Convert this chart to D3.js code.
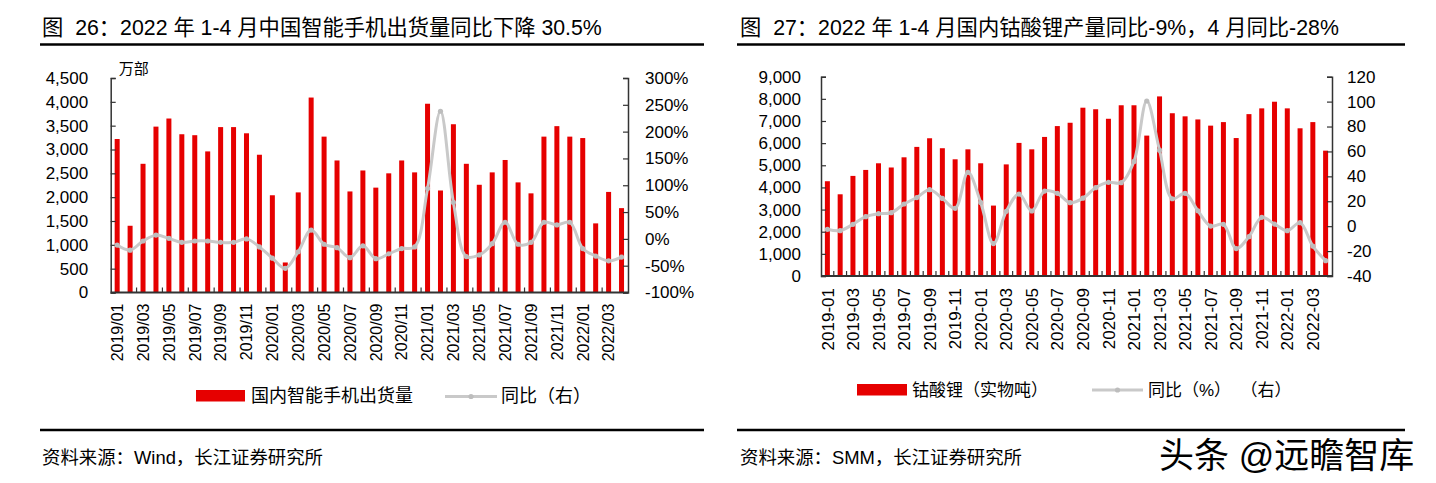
<!DOCTYPE html>
<html><head><meta charset="utf-8">
<script src="https://cdn.jsdelivr.net/npm/d3@7/dist/d3.min.js"></script>
<style>
html,body{margin:0;padding:0;background:#fff;}
svg{display:block;}
text{font-family:"Liberation Sans","Noto Sans CJK SC",Arial,sans-serif;fill:#000;}
</style></head>
<body>
<svg id="c" width="1436" height="483"></svg>
<script>
// ---------- data ----------
const monthsSlash = ["2019/01","2019/02","2019/03","2019/04","2019/05","2019/06","2019/07","2019/08","2019/09","2019/10","2019/11","2019/12",
"2020/01","2020/02","2020/03","2020/04","2020/05","2020/06","2020/07","2020/08","2020/09","2020/10","2020/11","2020/12",
"2021/01","2021/02","2021/03","2021/04","2021/05","2021/06","2021/07","2021/08","2021/09","2021/10","2021/11","2021/12",
"2022/01","2022/02","2022/03","2022/04"];
const monthsDash = ["2019-01","2019-02","2019-03","2019-04","2019-05","2019-06","2019-07","2019-08","2019-09","2019-10","2019-11","2019-12",
"2020-01","2020-02","2020-03","2020-04","2020-05","2020-06","2020-07","2020-08","2020-09","2020-10","2020-11","2020-12",
"2021-01","2021-02","2021-03","2021-04","2021-05","2021-06","2021-07","2021-08","2021-09","2021-10","2021-11","2021-12",
"2022-01","2022-02","2022-03","2022-04"];
const tickLabelsSlash = ["2019/01","2019/03","2019/05","2019/07","2019/09","2019/11","2020/01","2020/03","2020/05","2020/07","2020/09","2020/11","2021/01","2021/03","2021/05","2021/07","2021/09","2021/11","2022/01","2022/03"];
const tickLabelsDash = ["2019-01","2019-03","2019-05","2019-07","2019-09","2019-11","2020-01","2020-03","2020-05","2020-07","2020-09","2020-11","2021-01","2021-03","2021-05","2021-07","2021-09","2021-11","2022-01","2022-03"];

// 国内智能手机出货量 (万部)
const phoneShipments = [3220,1400,2700,3480,3650,3320,3300,2960,3470,3470,3340,2890,
2040,630,2100,4090,3270,2770,2120,2560,2200,2500,2770,2520,
3960,2140,3530,2700,2260,2520,2780,2310,2080,3270,3490,3270,
3240,1450,2110,1770];
// 同比 (%)
const phoneYoY = [-11.5,-21,-4,7,1,-6.5,-4,-4,-6.5,-6.5,0,-15,
-36,-55,-24,16.5,-10,-16.5,-35,-13,-37,-28,-18,-15,
94,238,68,-33,-30,-9,31,-10,-6.5,31,26,31,
-18,-32,-41,-34];
const phoneLeftTicks = [0,500,1000,1500,2000,2500,3000,3500,4000,4500];
const phoneRightTicks = [-100,-50,0,50,100,150,200,250,300];

// 钴酸锂 (实物吨)
const licoOutput = [4280,3690,4520,4790,5090,4900,5360,5830,6220,5770,5270,5720,
5090,3180,5040,6010,5720,6280,6770,6920,7600,7530,7100,7710,
7710,6340,8110,7350,7210,7070,6790,6950,6230,7310,7570,7870,
7570,6670,6950,5660];
const licoYoY = [-2.5,-3.6,1.5,7.6,10,10.8,17.8,23,29.3,22.3,14.3,43.2,
19.1,-14,11.9,25.8,12.2,28.2,26.4,18.9,22.5,30.9,35.2,34.9,
52,100.5,61,22,26.4,12.4,0.1,1.5,-18,-8.4,7.1,1.7,
-3.6,2.8,-16,-27.7];
const licoLeftTicks = [0,1000,2000,3000,4000,5000,6000,7000,8000,9000];
const licoRightTicks = [-40,-20,0,20,40,60,80,100,120];

// ---------- drawing ----------
const svg = d3.select("#c");
const RED = "#e60000", GREY = "#c9c9c9", AXIS = "#333";

function drawChart(o){
  const g = svg.append("g");
  const x = d3.scaleBand().domain(o.cats).range([o.x0,o.x1]).padding(0);
  const yL = d3.scaleLinear().domain(o.lDomain).range([o.yB,o.yT]);
  const yR = d3.scaleLinear().domain(o.rDomain).range([o.yB,o.yT]);
  const cx = c => x(c) + x.bandwidth()/2;

  // bars
  g.selectAll("rect.bar").data(o.cats).enter().append("rect")
    .attr("x", c => cx(c) - o.barW/2)
    .attr("width", o.barW)
    .attr("y", (c,i) => yL(o.bars[i]))
    .attr("height", (c,i) => yL(0) - yL(o.bars[i]))
    .attr("fill", RED);

  // left axis
  const la = g.append("g").attr("transform",`translate(${o.x0},0)`)
    .call(d3.axisLeft(yL).tickValues(o.lTicks).tickSize(-5).tickPadding(o.lPad).tickFormat(d3.format(",")));
  // right axis
  const ra = g.append("g").attr("transform",`translate(${o.x1},0)`)
    .call(d3.axisRight(yR).tickValues(o.rTicks).tickSize(-5).tickPadding(o.rPad).tickFormat(o.rFmt));
  [la,ra].forEach(a=>{
    a.select(".domain").attr("stroke",AXIS).attr("stroke-width",1.5);
    a.selectAll(".tick line").attr("stroke",AXIS).attr("stroke-width",1.2);
    a.selectAll(".tick text").style("font-size",o.yFont+"px").attr("fill","#000");
  });

  // x axis labels
  const xa = g.append("g").attr("transform",`translate(0,${o.yB})`)
    .call(d3.axisBottom(x).tickValues(o.xTicks).tickSize(0).tickPadding(0));
  xa.select(".domain").remove();
  xa.selectAll(".tick text")
    .attr("transform","rotate(-90)")
    .attr("text-anchor","end")
    .attr("x", -o.xLabOff).attr("y",0).attr("dy","0.36em")
    .style("font-size",o.xFont+"px").attr("fill","#000");

  // x tick marks at band boundaries (inside)
  const bnd = o.cats.filter((c,i)=> i>0 && i % o.tickEvery === 0);
  g.selectAll("line.xt").data(bnd).enter().append("line")
    .attr("x1", c=>x(c)).attr("x2", c=>x(c))
    .attr("y1", o.yB).attr("y2", o.yB-5)
    .attr("stroke",AXIS).attr("stroke-width",1.2);
  // x axis line
  g.append("line").attr("x1",o.x0).attr("x2",o.x1).attr("y1",o.yB).attr("y2",o.yB)
    .attr("stroke",AXIS).attr("stroke-width",1.8);

  // yoy line
  const line = d3.line().x((d,i)=>cx(o.cats[i])).y(d=>yR(d)).curve(d3.curveCatmullRom.alpha(0.5));
  g.append("path").datum(o.line).attr("d",line).attr("fill","none")
    .attr("stroke",GREY).attr("stroke-width",3);
  g.selectAll("circle.m").data(o.line).enter().append("circle")
    .attr("cx",(d,i)=>cx(o.cats[i])).attr("cy",d=>yR(d)).attr("r",2.6)
    .attr("fill","#bdbdbd");

  // unit label
  if(o.unit){
    g.append("text").attr("x",o.x0+8).attr("y",o.yT-4).text(o.unit).style("font-size","15px");
  }

  // title
  g.append("text").attr("x",o.titleX).attr("y",35).text(o.title).style("font-size","21.3px")
    .attr("xml:space","preserve").style("white-space","pre");
  g.append("line").attr("x1",o.ruleX0).attr("x2",o.ruleX1).attr("y1",44.5).attr("y2",44.5)
    .attr("stroke","#000").attr("stroke-width",2.5);

  // legend
  g.append("rect").attr("x",o.lgRect[0]).attr("y",o.lgRect[1]).attr("width",o.lgRect[2]).attr("height",o.lgRect[3]).attr("fill",RED);
  g.append("text").attr("x",o.lgT1).attr("y",o.lgY).attr("dy","0.36em").text(o.lg1).style("font-size",o.lgFont+"px");
  g.append("line").attr("x1",o.lgL[0]).attr("x2",o.lgL[1]).attr("y1",o.lgL[2]).attr("y2",o.lgL[2]).attr("stroke",GREY).attr("stroke-width",3);
  g.append("circle").attr("cx",(o.lgL[0]+o.lgL[1])/2).attr("cy",o.lgL[2]).attr("r",2.6).attr("fill","#bdbdbd");
  g.append("text").attr("x",o.lgT2).attr("y",o.lgY).attr("dy","0.36em").text(o.lg2).style("font-size",o.lgFont+"px")
    .attr("xml:space","preserve").style("white-space","pre");

  // bottom rule + source
  g.append("line").attr("x1",o.ruleX0).attr("x2",o.ruleX1).attr("y1",430).attr("y2",430)
    .attr("stroke","#000").attr("stroke-width",2.5);
  g.append("text").attr("x",o.titleX).attr("y",457).attr("dy","0.36em").text(o.source).style("font-size","18.4px");
}

drawChart({
  cats: monthsSlash, bars: phoneShipments, line: phoneYoY,
  x0:110.7, x1:628, yT:78, yB:292.5,
  lDomain:[0,4500], rDomain:[-100,300], lTicks:phoneLeftTicks, rTicks:phoneRightTicks,
  rFmt: d=>d+"%", lPad:22.5, rPad:17, yFont:17,
  xTicks: tickLabelsSlash, xLabOff:11, xFont:16, tickEvery:2, barW:5,
  unit:"万部",
  title:"图  26：2022 年 1-4 月中国智能手机出货量同比下降 30.5%", titleX:42, ruleX0:40, ruleX1:704,
  lgRect:[196,390,49,11.5], lgT1:251, lgY:396, lg1:"国内智能手机出货量",
  lgL:[445,497,396.5], lgT2:501, lg2:"同比（右）", lgFont:18,
  source:"资料来源：Wind，长江证券研究所"
});

drawChart({
  cats: monthsDash, bars: licoOutput, line: licoYoY,
  x0:821, x1:1332, yT:76.7, yB:276,
  lDomain:[0,9000], rDomain:[-40,120], lTicks:licoLeftTicks, rTicks:licoRightTicks,
  rFmt: d=>d, lPad:20, rPad:15, yFont:17,
  xTicks: tickLabelsDash, xLabOff:12, xFont:17, tickEvery:1, barW:5,
  unit:null,
  title:"图  27：2022 年 1-4 月国内钴酸锂产量同比-9%，4 月同比-28%", titleX:740, ruleX0:737, ruleX1:1405,
  lgRect:[857,384,50,11.5], lgT1:912, lgY:390, lg1:"钴酸锂（实物吨）",
  lgL:[1092,1143,390], lgT2:1148, lg2:"同比（%）  （右）", lgFont:17,
  source:"资料来源：SMM，长江证券研究所"
});

// watermark
svg.append("text").attr("x",1159).attr("y",468).text("头条 @远瞻智库")
  .style("font-size","35px").attr("fill","#111")
  .attr("stroke","#fff").attr("stroke-width",2.5).attr("paint-order","stroke");
</script>
</body></html>
